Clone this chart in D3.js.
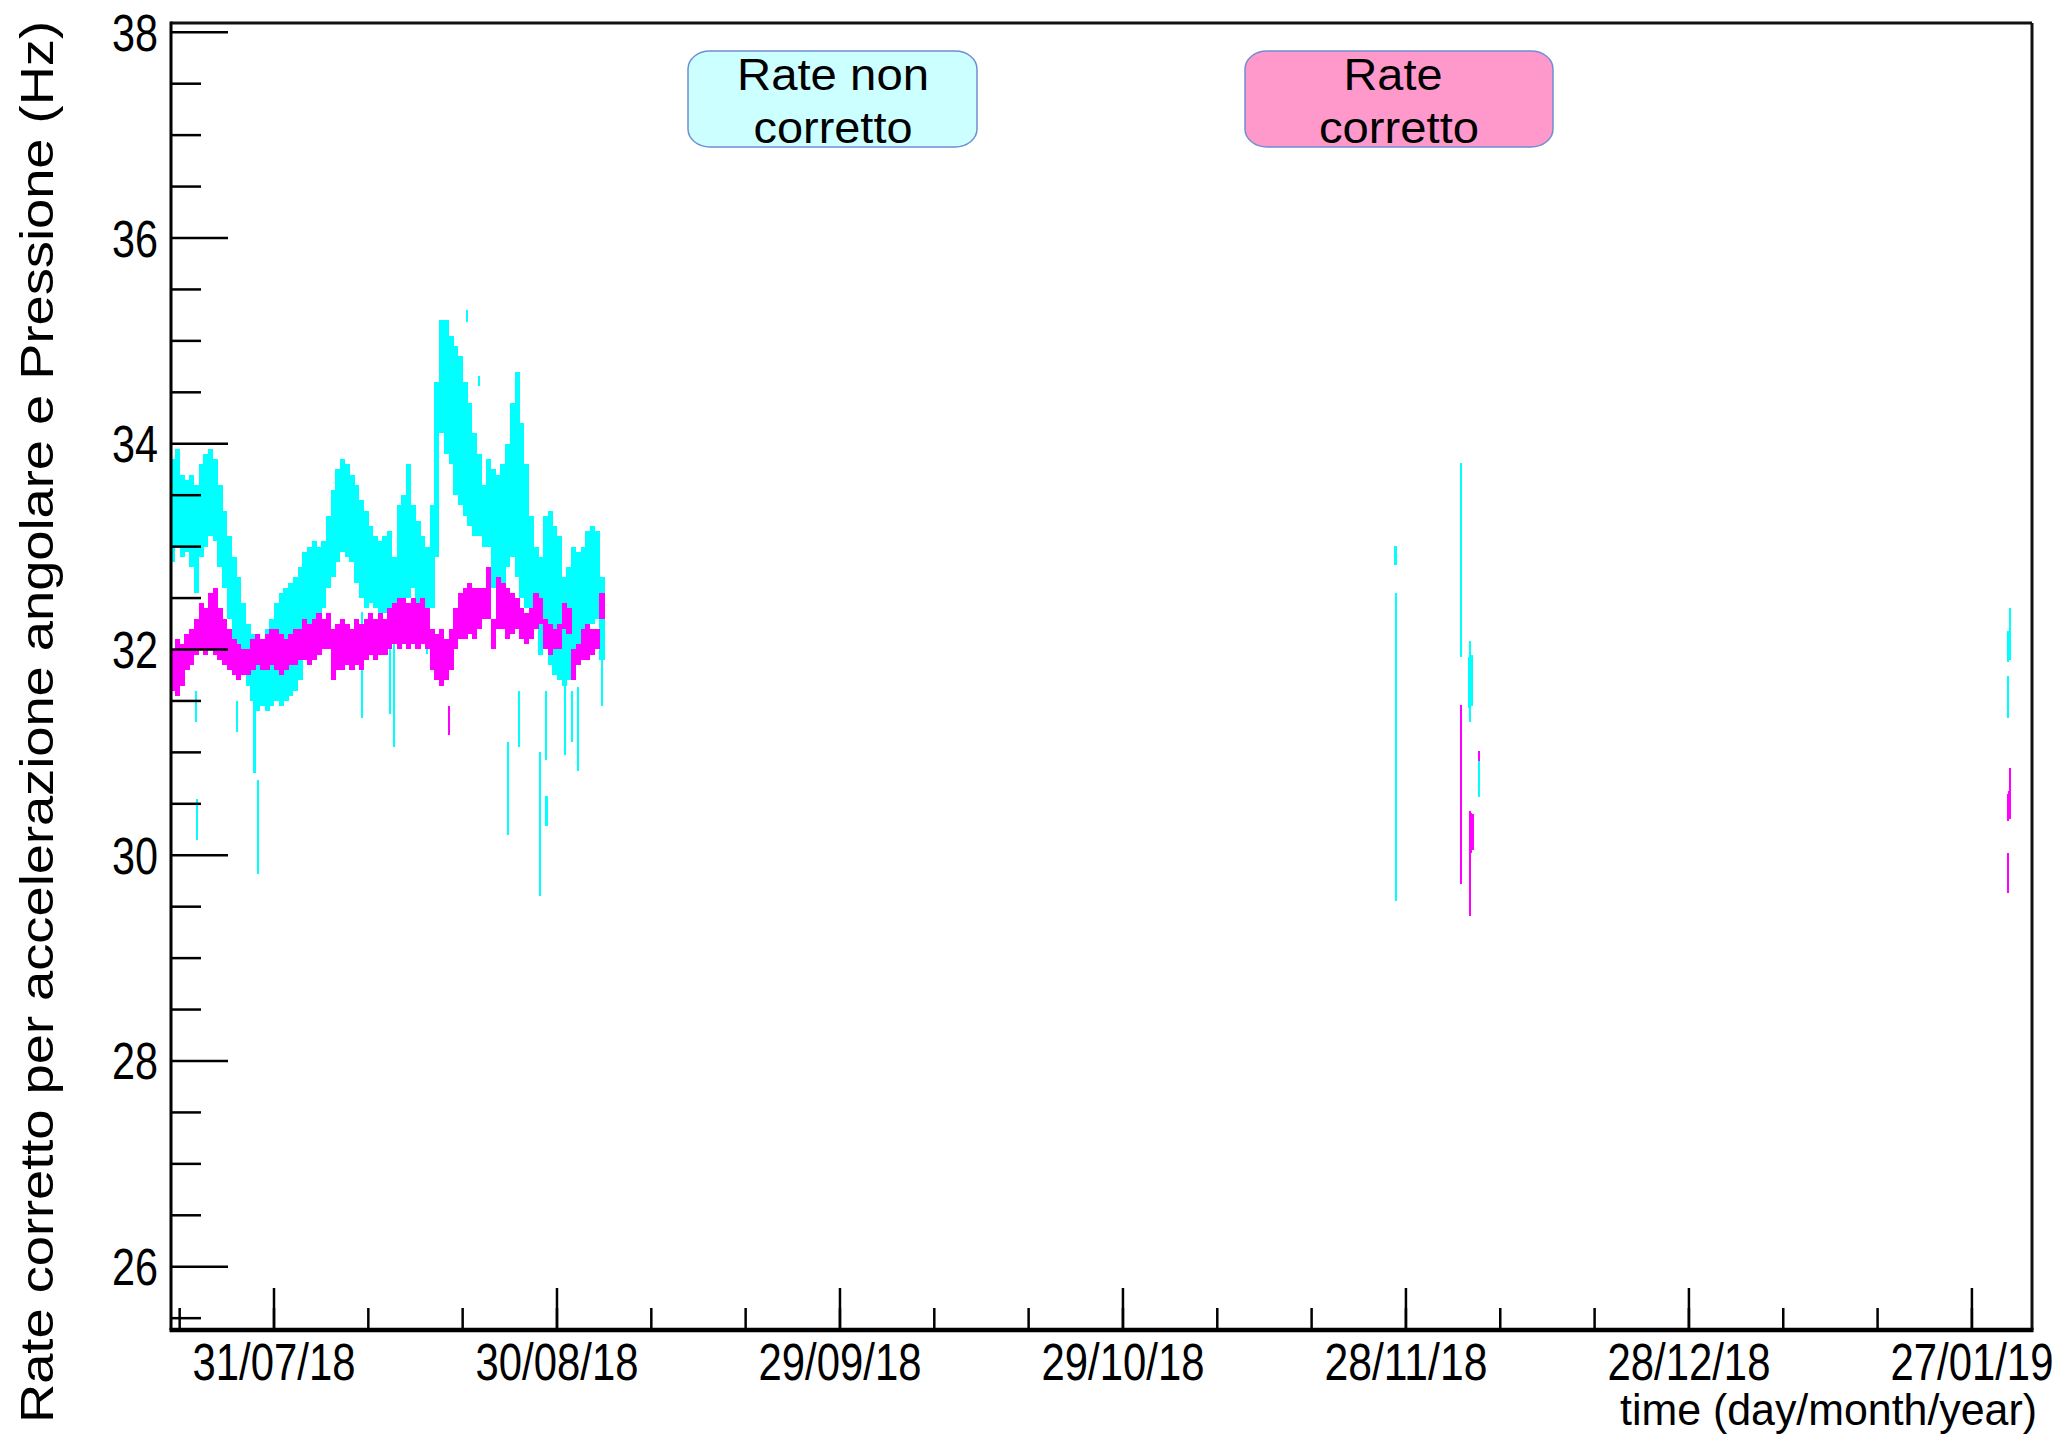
<!DOCTYPE html>
<html><head><meta charset="utf-8">
<script src="https://cdn.jsdelivr.net/npm/d3@7"></script>
<style>html,body{margin:0;padding:0;background:#fff;} svg{display:block;}</style>
</head><body>
<svg id="chart" width="2063" height="1446"></svg>
<script>
// ---------- DATA ----------
const denseStart = "2018-07-20T06:00:00Z";   // first sample of the dense run
const denseStepHours = 12;                    // sampling step of the dense run

const cyanHigh = [33.85,33.95,33.7,33.65,33.7,33.6,33.8,33.9,33.95,33.85,
  33.6,33.35,33.1,32.9,32.7,32.45,32.25,32.15,32.05,32.1,
  32.2,32.3,32.45,32.55,32.6,32.65,32.7,32.8,32.95,33.0,
  33.05,33.0,33.05,33.3,33.55,33.75,33.85,33.8,33.7,33.6,
  33.45,33.35,33.2,33.1,33.05,33.1,33.15,32.9,33.4,33.5,
  33.8,33.4,33.25,33.1,33.0,33.4,34.6,35.2,35.2,35.05,
  34.95,34.85,34.6,34.4,34.1,33.9,33.6,33.85,33.75,33.7,
  33.8,34.0,34.4,34.7,34.2,33.8,33.3,33.0,32.9,33.3,
  33.35,33.2,33.1,32.7,32.8,33.0,32.95,33.0,33.15,33.2,
  33.15,32.7];
const cyanLow = [32.85,33.0,32.9,32.95,32.8,32.55,32.9,33.0,33.1,33.05,
  32.8,32.6,32.3,32.1,32.0,31.8,31.65,31.5,31.4,31.45,
  31.4,31.45,31.5,31.45,31.5,31.55,31.6,31.7,31.95,32.05,
  32.15,32.3,32.4,32.6,32.7,32.85,32.95,32.9,32.85,32.65,
  32.5,32.4,32.45,32.4,32.35,32.35,32.2,32.1,32.3,32.4,
  32.5,32.6,32.45,32.3,32.2,32.4,32.9,34.1,33.9,33.8,
  33.5,33.4,33.3,33.2,33.1,33.1,33.0,33.0,32.6,32.3,
  32.4,32.8,32.9,32.7,32.5,32.4,32.3,32.2,31.95,32.0,
  31.85,31.75,31.7,31.65,31.7,31.8,31.9,32.0,32.15,32.25,
  32.3,31.9];
const magentaHigh = [32.0,32.1,32.05,32.15,32.2,32.3,32.45,32.4,32.55,32.6,
  32.4,32.3,32.2,32.1,32.05,32.0,32.0,32.1,32.15,32.1,
  32.15,32.2,32.2,32.15,32.1,32.15,32.2,32.2,32.3,32.25,
  32.3,32.35,32.3,32.35,32.2,32.25,32.3,32.25,32.2,32.3,
  32.25,32.3,32.35,32.3,32.35,32.3,32.4,32.45,32.5,32.5,
  32.45,32.5,32.45,32.5,32.4,32.2,32.15,32.2,32.1,32.2,
  32.4,32.55,32.6,32.65,32.6,32.6,32.6,32.8,32.3,32.7,
  32.65,32.6,32.55,32.5,32.4,32.35,32.4,32.55,32.5,32.3,
  32.25,32.2,32.25,32.45,32.4,32.0,32.05,32.2,32.25,32.2,
  32.2,32.55];
const magentaLow = [31.6,31.55,31.65,31.8,31.85,31.95,32.0,31.95,32.0,31.95,
  31.9,31.85,31.8,31.75,31.7,31.75,31.75,31.8,31.85,31.8,
  31.8,31.85,31.8,31.75,31.8,31.85,31.85,31.9,31.9,31.85,
  31.9,31.95,32.0,32.0,31.7,31.8,31.8,31.85,31.8,31.85,
  31.8,31.9,31.95,31.9,31.95,31.95,32.0,32.05,32.0,32.05,
  32.0,32.05,32.0,32.05,32.0,31.8,31.7,31.65,31.7,31.8,
  32.0,32.1,32.1,32.15,32.1,32.2,32.3,32.3,32.0,32.2,
  32.2,32.1,32.15,32.2,32.1,32.05,32.1,32.2,32.25,32.0,
  31.95,32.0,32.0,32.2,32.15,31.7,31.85,31.9,31.9,31.95,
  32.0,32.3];

// isolated error bars [time, low, high]
const cyanSpikes = [
  ["2018-07-22T17:00:00Z",31.3,31.6],["2018-07-22T20:00:00Z",30.15,30.55],
  ["2018-07-27T02:00:00Z",31.2,31.5],["2018-07-28T23:00:00Z",30.8,31.6],
  ["2018-07-29T07:00:00Z",29.82,30.73],["2018-08-09T08:00:00Z",31.33,32.36],
  ["2018-08-12T07:00:00Z",31.37,32.3],["2018-08-12T17:00:00Z",31.05,32.2],
  ["2018-08-16T05:00:00Z",31.96,32.4],["2018-08-20T11:00:00Z",35.18,35.3],
  ["2018-08-21T17:00:00Z",34.56,34.66],["2018-08-24T19:00:00Z",30.2,31.1],
  ["2018-08-25T23:00:00Z",31.05,31.6],["2018-08-28T05:00:00Z",29.6,31.0],
  ["2018-08-28T20:00:00Z",30.93,31.6],["2018-08-28T21:00:00Z",30.28,30.58],
  ["2018-08-30T20:00:00Z",30.97,31.85],["2018-08-31T14:00:00Z",31.1,31.6],
  ["2018-09-01T05:00:00Z",30.82,31.64],["2018-09-03T18:00:00Z",31.45,31.9]
];
const magentaSpikes = [
  ["2018-08-18T13:00:00Z",31.17,31.45]
];
const cyanLate = [
  ["2018-11-26T22:00:00Z",32.82,33.01],["2018-11-26T23:00:00Z",29.56,32.55],
  ["2018-12-03T20:00:00Z",31.93,33.81],
  ["2018-12-04T17:00:00Z",31.43,31.93],["2018-12-04T19:00:00Z",31.30,32.08],
  ["2018-12-04T23:00:00Z",31.45,31.95],
  ["2018-12-05T18:00:00Z",30.57,30.92],
  ["2019-01-30T20:00:00Z",31.33,31.74],["2019-01-30T20:00:00Z",31.88,32.18],
  ["2019-01-30T23:00:00Z",31.90,32.18],["2019-01-31T01:00:00Z",32.10,32.40]
];
const magentaLate = [
  ["2018-12-03T20:00:00Z",29.72,31.46],
  ["2018-12-04T19:00:00Z",29.41,30.43],["2018-12-04T22:00:00Z",30.02,30.41],
  ["2018-12-05T01:00:00Z",30.05,30.40],
  ["2018-12-05T18:00:00Z",30.92,31.01],
  ["2019-01-30T20:00:00Z",29.63,30.02],["2019-01-30T20:00:00Z",30.33,30.60],
  ["2019-01-30T23:00:00Z",30.35,30.62],["2019-01-31T01:00:00Z",30.50,30.85]
];

const xTickLabels = ["31/07/18","30/08/18","29/09/18","29/10/18","28/11/18","28/12/18","27/01/19"];
const yTickValues = [26,28,30,32,34,36,38];
const legendLines = [["Rate non","corretto"],["Rate","corretto"]];
const legendFills = ["#ccffff","#ff99cc"];
const seriesColors = {cyan:"#00ffff", magenta:"#ff00ff"};
const yTitle = "Rate corretto per accelerazione angolare e Pressione (Hz)";
const xTitle = "time (day/month/year)";

// ---------- LAYOUT ----------
const L = 171, R = 2032, T = 23, B = 1330;
const DAY = 864e5;
const t0 = Date.UTC(2018,6,31);
const x = d3.scaleUtc().domain([new Date(t0 - 10.919*DAY), new Date(t0 + 186.37*DAY)]).range([L, R]);
const y = d3.scaleLinear().domain([25.385, 38.09]).range([B, T]);
const FONT = "'Liberation Sans', Arial, Helvetica, sans-serif";

const svg = d3.select("#chart");
svg.append("rect").attr("width",2063).attr("height",1446).attr("fill","#fff");
svg.append("defs").append("clipPath").attr("id","plot")
  .append("rect").attr("x",L).attr("y",T).attr("width",R-L).attr("height",B-T);

const plot = svg.append("g").attr("clip-path","url(#plot)").attr("shape-rendering","crispEdges");

const denseTimes = cyanHigh.map((_,i) => d3.utcHour.offset(new Date(denseStart), i*denseStepHours));
const stepW = x(denseTimes[1]) - x(denseTimes[0]);

function drawDense(hi, lo, color) {
  plot.append("g").selectAll("rect").data(hi.map((h,i)=>({t:denseTimes[i],h,l:lo[i]})))
    .join("rect")
    .attr("x", d => x(d.t) - stepW/2)
    .attr("width", stepW + 0.4)
    .attr("y", d => y(d.h))
    .attr("height", d => y(d.l) - y(d.h))
    .attr("fill", color);
}
function drawBars(arr, color, w) {
  plot.append("g").selectAll("rect").data(arr).join("rect")
    .attr("x", d => x(new Date(d[0])) - w/2)
    .attr("width", w)
    .attr("y", d => y(d[2]))
    .attr("height", d => y(d[1]) - y(d[2]))
    .attr("fill", color);
}
drawDense(cyanHigh, cyanLow, seriesColors.cyan);
drawBars(cyanSpikes, seriesColors.cyan, 2.5);
drawBars(cyanLate, seriesColors.cyan, 2.5);
drawDense(magentaHigh, magentaLow, seriesColors.magenta);
drawBars(magentaSpikes, seriesColors.magenta, 2.5);
drawBars(magentaLate, seriesColors.magenta, 2.5);

// ---------- AXES ----------
const parse = d3.utcParse("%d/%m/%y");
const majorX = xTickLabels.map(parse);
const minorX = d3.utcDay.range(new Date(t0 - 10*DAY), new Date(t0 + 187*DAY), 10)
  .filter(d => x(d) >= L && x(d) <= R);

const ax = svg.append("g").attr("stroke","#000").attr("stroke-width",2.5);
ax.selectAll(".mx").data(minorX).join("line")
  .attr("x1",d=>x(d)).attr("x2",d=>x(d)).attr("y1",B).attr("y2",B-22);
ax.selectAll(".Mx").data(majorX).join("line")
  .attr("x1",d=>x(d)).attr("x2",d=>x(d)).attr("y1",B).attr("y2",B-42);

const minorY = d3.range(25.5, 38.01, 0.5).filter(v => v % 2 !== 0);
ax.selectAll(".my").data(minorY).join("line")
  .attr("x1",L).attr("x2",L+30).attr("y1",d=>y(d)).attr("y2",d=>y(d));
ax.selectAll(".My").data(yTickValues).join("line")
  .attr("x1",L).attr("x2",L+57).attr("y1",d=>y(d)).attr("y2",d=>y(d));

// frame
svg.append("line").attr("x1",L).attr("x2",R).attr("y1",T).attr("y2",T).attr("stroke","#111").attr("stroke-width",3);
svg.append("line").attr("x1",R).attr("x2",R).attr("y1",T).attr("y2",B).attr("stroke","#111").attr("stroke-width",3);
svg.append("line").attr("x1",L).attr("x2",L).attr("y1",T-1.5).attr("y2",B).attr("stroke","#000").attr("stroke-width",3);
svg.append("line").attr("x1",L-1.5).attr("x2",R+1.5).attr("y1",B).attr("y2",B).attr("stroke","#000").attr("stroke-width",4.5);

// tick labels (narrow Helvetica look: smaller font stretched vertically)
const tl = svg.append("g").attr("font-family",FONT).attr("fill","#000");
tl.selectAll(".xl").data(xTickLabels).join("text")
  .attr("transform", d => `translate(${x(parse(d))},1380) scale(1,1.19)`)
  .attr("text-anchor","middle").attr("font-size",43)
  .attr("textLength",163).attr("lengthAdjust","spacingAndGlyphs")
  .text(d => d);
tl.selectAll(".yl").data(yTickValues).join("text")
  .attr("transform", d => `translate(158,${y(d) + 18.5}) scale(1,1.19)`)
  .attr("text-anchor","end").attr("font-size",43)
  .attr("textLength",46).attr("lengthAdjust","spacingAndGlyphs")
  .text(d => d);

// axis titles
tl.append("text").attr("transform","translate(53,722) rotate(-90)")
  .attr("text-anchor","middle").attr("font-size",47)
  .attr("textLength",1402).attr("lengthAdjust","spacingAndGlyphs")
  .text(yTitle);
tl.append("text").attr("x",2037).attr("y",1425)
  .attr("text-anchor","end").attr("font-size",44)
  .attr("textLength",417).attr("lengthAdjust","spacingAndGlyphs")
  .text(xTitle);

// legend boxes (text drawn after the box so it stays on top)
const boxes = [{x0:688,x1:977,tx:[833,833],w:[192,159]},{x0:1245,x1:1553,tx:[1393,1399],w:[99,160]}];
boxes.forEach((b,k) => {
  const g = svg.append("g");
  g.append("rect").attr("x",b.x0).attr("y",51).attr("width",b.x1-b.x0).attr("height",96)
    .attr("rx",22).attr("ry",18).attr("fill",legendFills[k]).attr("stroke","#6f8fcf").attr("stroke-width",1.5);
  legendLines[k].forEach((line,j) => {
    g.append("text").attr("x",b.tx[j]).attr("y", j===0 ? 90 : 143)
      .attr("font-family",FONT).attr("fill","#000")
      .attr("text-anchor","middle").attr("font-size",45)
      .attr("textLength",b.w[j]).attr("lengthAdjust","spacingAndGlyphs")
      .text(line);
  });
});
</script>
</body></html>
